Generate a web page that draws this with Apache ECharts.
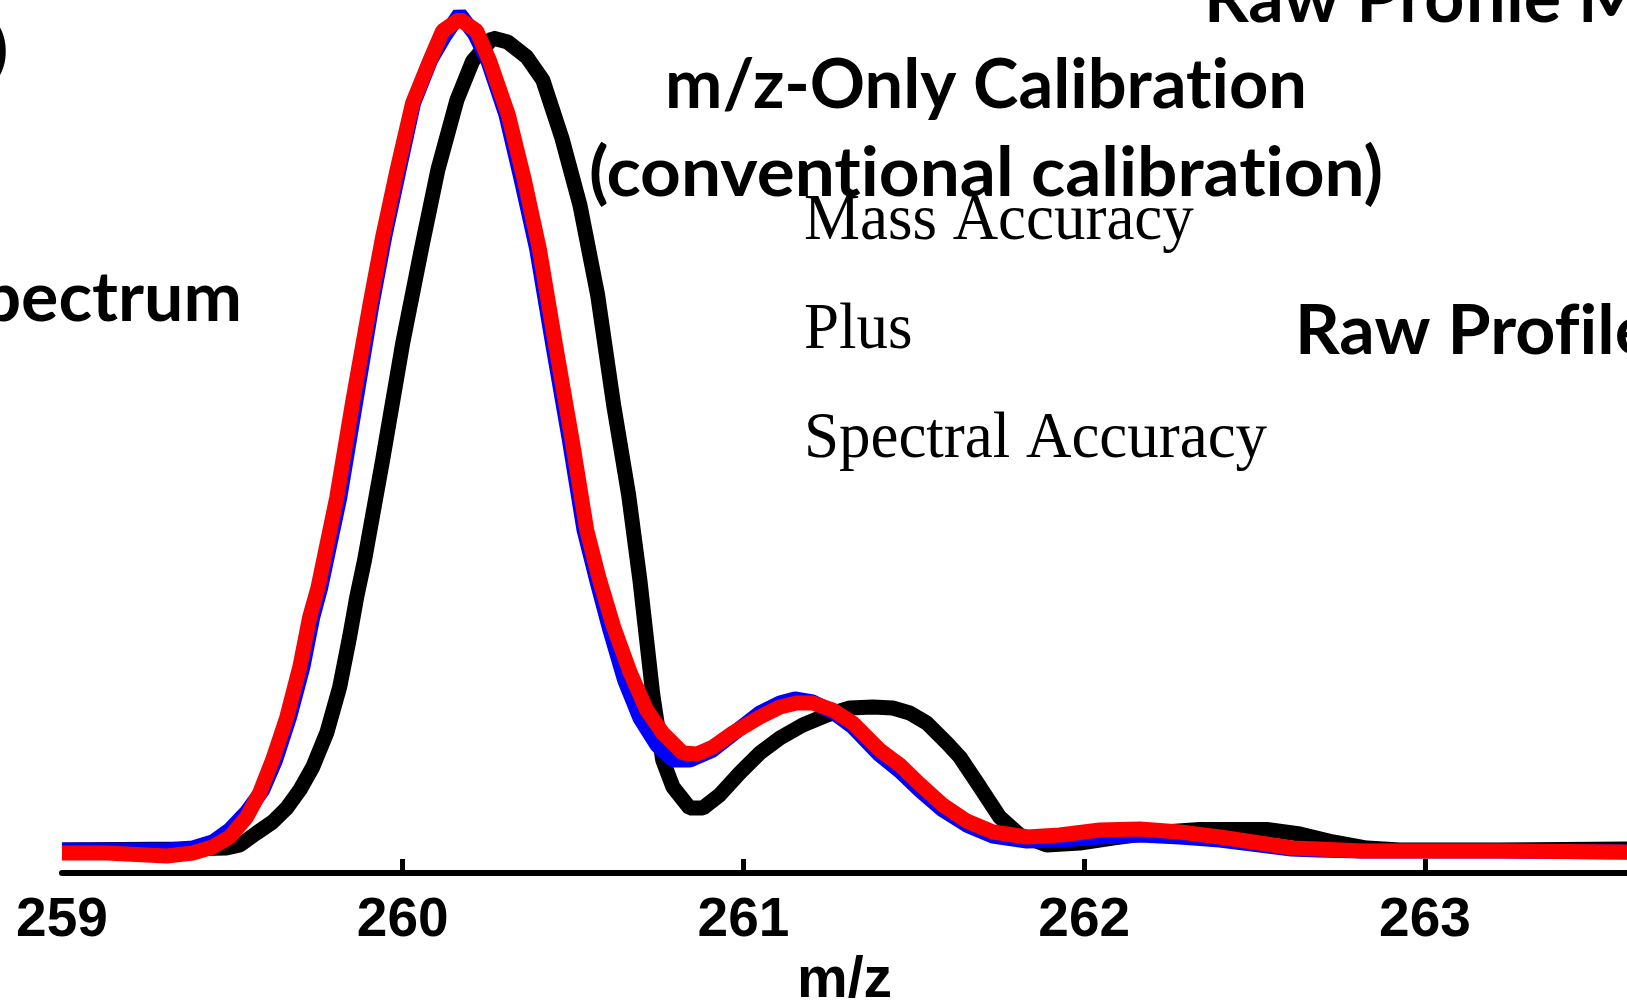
<!DOCTYPE html>
<html>
<head>
<meta charset="utf-8">
<script src="https://cdn.jsdelivr.net/npm/echarts@6/dist/echarts.min.js"></script>
<style>
html,body{margin:0;padding:0;background:#fff;}
#chart{width:1627px;height:1006px;}
</style>
</head>
<body>
<div id="chart"></div>
<script>
// ---- Data ----
var blackMz = [259.000,259.354,259.483,259.522,259.571,259.618,259.660,259.698,259.736,259.777,259.815,259.844,259.865,259.888,259.941,260.000,260.056,260.103,260.159,260.205,260.264,260.308,260.364,260.411,260.467,260.520,260.572,260.619,260.663,260.696,260.734,260.763,260.793,260.842,260.881,260.930,260.989,261.048,261.107,261.174,261.245,261.312,261.380,261.438,261.488,261.538,261.597,261.635,261.694,261.752,261.811,261.890,261.987,262.084,262.193,262.339,262.536,262.633,262.730,262.830,262.926,263.219,263.593];
var blackInt = [2.63,2.75,2.86,3.21,4.58,5.84,7.45,9.51,12.14,16.04,21.31,27.03,31.62,35.85,47.31,60.71,71.71,80.53,88.55,93.00,95.65,95.19,93.47,90.84,84.19,76.52,66.21,53.61,43.30,33.56,20.39,12.94,9.85,7.45,7.45,8.93,11.45,13.75,15.46,16.95,18.10,18.90,19.01,18.90,18.33,17.18,14.89,13.29,9.85,6.41,4.35,3.21,3.44,4.01,4.58,4.98,4.98,4.47,3.55,2.86,2.63,2.63,2.75];

var blueMz = [259.000,259.131,259.307,259.384,259.442,259.492,259.542,259.589,259.627,259.668,259.707,259.736,259.759,259.815,259.862,259.909,259.947,259.988,260.032,260.082,260.123,260.167,260.211,260.250,260.303,260.348,260.393,260.440,260.489,260.532,260.569,260.608,260.651,260.696,260.746,260.793,260.842,260.910,260.969,261.048,261.107,261.151,261.203,261.262,261.321,261.400,261.459,261.517,261.585,261.655,261.732,261.832,261.928,262.046,262.163,262.281,262.398,262.515,262.609,262.686,262.815,262.932,263.226,263.593];
var blueInt = [2.63,2.63,2.63,2.86,3.55,4.93,6.99,9.51,12.94,17.87,23.60,29.32,32.65,42.96,53.95,64.95,72.85,80.30,88.20,93.13,95.88,98.40,96.11,93.01,86.83,79.38,71.48,60.60,49.60,39.29,33.56,27.84,22.11,17.75,14.66,12.94,12.94,14.09,15.92,18.33,19.47,19.93,19.59,18.44,16.72,13.52,11.68,9.51,7.22,5.50,4.24,3.67,3.78,4.12,4.35,4.12,3.78,3.21,2.75,2.63,2.52,2.52,2.52,2.41];

var redMz = [259.000,259.131,259.307,259.384,259.442,259.492,259.542,259.580,259.618,259.660,259.698,259.727,259.751,259.806,259.853,259.903,259.941,259.982,260.029,260.079,260.117,260.167,260.217,260.255,260.310,260.357,260.401,260.448,260.497,260.540,260.576,260.619,260.668,260.716,260.763,260.822,260.863,260.910,260.969,261.048,261.107,261.156,261.203,261.262,261.321,261.400,261.459,261.517,261.585,261.655,261.732,261.832,261.928,262.046,262.163,262.281,262.398,262.515,262.609,262.686,262.815,262.932,263.226,263.593];
var redInt = [2.29,2.29,1.95,2.29,2.98,4.12,6.41,9.16,12.94,17.87,23.60,29.32,32.65,42.96,53.95,64.95,72.85,80.30,88.20,93.01,96.45,97.82,96.45,93.01,86.83,79.38,71.48,60.60,49.60,39.29,33.79,28.18,22.91,18.67,16.04,13.75,13.63,14.43,16.04,17.87,19.01,19.47,19.47,18.67,17.18,14.09,12.37,10.19,7.79,5.96,4.70,4.12,4.35,4.93,5.04,4.70,4.12,3.44,2.86,2.75,2.52,2.52,2.52,2.41];

var tickLabels = [259, 260, 261, 262, 263];
var tickMarks = [260, 261, 262, 263];
var axisTitle = 'm/z';

// U+200C (zero-width non-joiner) keeps the sans font from forming "ti"/"fi" ligatures
var annotations = {
  title1: 'm/z-Only Calibrat\u200Cion',
  title2: '(convent\u200Cional calibrat\u200Cion)',
  mass: 'Mass Accuracy',
  plus: 'Plus',
  spectral: 'Spectral Accuracy',
  rawTop: 'Raw Prof\u200Cile Mass Spectrum',
  rawMid: 'Raw Prof\u200Cile Mass Spectrum',
  leftSpec: 'Mass Spectrum',
  leftParen: ')'
};

function pairs(xs, ys) { return xs.map(function (x, i) { return [x, ys[i]]; }); }

// ---- text width fitting ----
var mctx = document.createElement('canvas').getContext('2d');
function fit(text, font, w) { mctx.font = font; return w / mctx.measureText(text).width; }

var sansB = 'bold 68px Lato';
var serif = '66px "Liberation Serif"';
var s1 = fit(annotations.title1, sansB, 642);
var s2 = fit(annotations.title2, sansB, 794);
var sAvg = (s1 + s2) / 2;
var sMass = fit(annotations.mass, serif, 389);
var sSpec = fit(annotations.spectral, serif, 464);
var sSerif = (sMass + sSpec) / 2;
var kL = 0.387 * 68, kS = 0.3375 * 66;

function txt(text, x, y, font, sx, align) {
  return { type: 'text', x: x, y: y, scaleX: sx, silent: true, z: 10,
    style: { text: text, x: 0, y: 0, font: font, fill: '#000', textAlign: align || 'left', textVerticalAlign: 'middle' } };
}

var chart = echarts.init(document.getElementById('chart'));
chart.setOption({
  animation: false,
  backgroundColor: '#ffffff',
  grid: { left: 62, right: 0, top: 0, bottom: 133, containLabel: false, outerBoundsMode: 'none' },
  xAxis: {
    type: 'value', min: 259, max: 263.593,
    axisLine: { show: true, lineStyle: { color: '#000', width: 6 } },
    axisTick: { show: true, inside: true, length: 14, customValues: tickMarks, lineStyle: { color: '#000', width: 5 } },
    axisLabel: { customValues: tickLabels, margin: 20, color: '#000', fontFamily: '"Liberation Sans", Arial, sans-serif', fontWeight: 'bold', fontSize: 55, lineHeight: 55, formatter: function (v) { return String(v); } },
    splitLine: { show: false },
    name: axisTitle, nameLocation: 'middle', nameGap: 80,
    nameTextStyle: { color: '#000', fontFamily: '"Liberation Sans", Arial, sans-serif', fontWeight: 'bold', fontSize: 57, lineHeight: 57 }
  },
  yAxis: { type: 'value', min: 0, max: 100, show: false },
  series: [
    { type: 'line', data: pairs(blackMz, blackInt), showSymbol: false, lineStyle: { color: '#000000', width: 15 }, z: 2 },
    { type: 'line', data: pairs(blueMz, blueInt), showSymbol: false, lineStyle: { color: '#0000ff', width: 15 }, z: 3 },
    { type: 'line', data: pairs(redMz, redInt), showSymbol: false, lineStyle: { color: '#ff0000', width: 15 }, z: 4 }
  ],
  graphic: [
    txt(annotations.title1, 665, 112 - kL, sansB, s1),
    txt(annotations.title2, 589, 200 - kL, sansB, s2),
    txt(annotations.mass, 804, 244 - kS, serif, sSerif),
    txt(annotations.plus, 804, 353 - kS, serif, sSerif),
    txt(annotations.spectral, 804, 462 - kS, serif, sSerif),
    txt(annotations.rawTop, 1204, 26 - kL, sansB, sAvg),
    txt(annotations.rawMid, 1295, 358 - kL, sansB, sAvg),
    txt(annotations.leftSpec, 242, 325 - kL, sansB, sAvg, 'right'),
    txt(annotations.leftParen, 8, 74 - 0.387 * 60, 'bold 60px Lato', 1, 'right')
  ]
});
</script>
</body>
</html>
